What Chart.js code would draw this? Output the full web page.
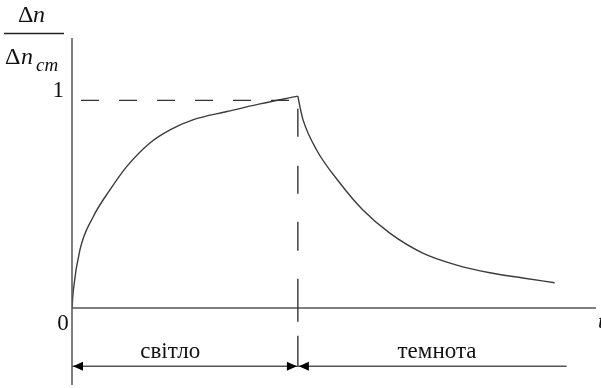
<!DOCTYPE html>
<html>
<head>
<meta charset="utf-8">
<script src="https://cdn.jsdelivr.net/npm/chart.js@4/dist/chart.umd.min.js"></script>
<style>
  html, body { margin: 0; padding: 0; background: #fff; }
  #wrap { width: 601px; height: 388px; }
</style>
</head>
<body>
<div id="wrap"><canvas id="relaxChart" width="601" height="388"></canvas></div>
<script>
// Relative excess carrier concentration: light on, then dark
const riseT   = [0, 0.006, 0.035, 0.094, 0.168, 0.242, 0.345, 0.434, 0.535, 0.686, 0.832, 1.0];
const riseVal = [0, 0.087, 0.28, 0.44, 0.569, 0.681, 0.795, 0.858, 0.906, 0.946, 0.983, 1.02];
const fallT   = [1.0, 1.009, 1.023, 1.083, 1.186, 1.288, 1.407, 1.553, 1.704, 1.85, 1.996, 2.137];
const fallVal = [1.02, 0.97, 0.906, 0.761, 0.602, 0.472, 0.361, 0.265, 0.207, 0.17, 0.145, 0.122];

const yTickLabels = ['0', '1'];
const phaseLabels = ['світло', 'темнота'];
const phaseEnd = 2.19;   // end of the "dark" interval on the time axis
const arrowRow = -0.28;  // level of the interval arrows below the axis

const ink = '#3c3c3c';
const serif = '"Liberation Serif", "DejaVu Serif", serif';

function toPoints(xs, ys) {
    return xs.map((x, i) => ({ x: x, y: ys[i] }));
}

function arrowHead(ctx, x, y, dir) {
    ctx.beginPath();
    ctx.moveTo(x, y);
    ctx.lineTo(x - dir * 10, y - 4.5);
    ctx.lineTo(x - dir * 10, y + 4.5);
    ctx.closePath();
    ctx.fill();
}

// Axes, guide lines, interval arrows and labels
const schemePlugin = {
    id: 'scheme',
    afterDatasetsDraw(chart) {
        const ctx = chart.ctx;
        const xs = chart.scales.x;
        const ys = chart.scales.y;
        const area = chart.chartArea;
        const x0 = xs.getPixelForValue(0);
        const x1 = xs.getPixelForValue(1);
        const y0 = ys.getPixelForValue(0);
        const y1 = ys.getPixelForValue(1);
        const yArr = ys.getPixelForValue(arrowRow);

        ctx.save();
        ctx.strokeStyle = '#555';
        ctx.fillStyle = '#000';
        ctx.lineWidth = 1.5;

        // axes
        ctx.beginPath();
        ctx.moveTo(x0, area.top);
        ctx.lineTo(x0, area.bottom);
        ctx.moveTo(x0, y0);
        ctx.lineTo(area.right, y0);
        ctx.stroke();

        // dashed level of 1
        ctx.strokeStyle = '#333';
        ctx.lineWidth = 1.4;
        ctx.setLineDash([18, 20]);
        ctx.beginPath();
        ctx.moveTo(xs.getPixelForValue(0.04), y1);
        ctx.lineTo(x1, y1);
        ctx.stroke();

        // dashed line at the moment the light is switched off
        ctx.setLineDash([28, 29, 28, 28, 29, 28, 43, 14, 40]);
        ctx.beginPath();
        ctx.moveTo(x1, ys.getPixelForValue(0.96));
        ctx.lineTo(x1, yArr);
        ctx.stroke();
        ctx.setLineDash([]);

        // interval arrows
        ctx.strokeStyle = '#555';
        ctx.beginPath();
        ctx.moveTo(x0, yArr);
        ctx.lineTo(xs.getPixelForValue(phaseEnd), yArr);
        ctx.stroke();
        arrowHead(ctx, x0 + 1, yArr, -1);
        arrowHead(ctx, x1 - 1, yArr, 1);
        arrowHead(ctx, x1 + 1, yArr, -1);

        // tick labels
        ctx.fillStyle = '#111';
        ctx.font = '23px ' + serif;
        ctx.textAlign = 'center';
        ctx.textBaseline = 'alphabetic';
        ctx.fillText(yTickLabels[0], x0 - 9, y0 + 22);
        ctx.textAlign = 'right';
        ctx.fillText(yTickLabels[1], x0 - 8, y1 - 3);

        // interval names
        ctx.textAlign = 'center';
        ctx.font = '23px ' + serif;
        ctx.fillText(phaseLabels[0], xs.getPixelForValue(0.435), yArr - 8);
        ctx.fillText(phaseLabels[1], xs.getPixelForValue(1.616), yArr - 8);

        // time axis letter, at the right edge
        ctx.textAlign = 'left';
        ctx.font = 'italic 22px ' + serif;
        ctx.fillText('t', area.right + 2, y0 + 20);

        // y axis title as a fraction Δn / Δn_cm
        ctx.textAlign = 'left';
        ctx.font = '24px ' + serif;
        ctx.fillText('Δ', 18, 22);
        ctx.font = 'italic 24px ' + serif;
        ctx.fillText('n', 33, 22);
        ctx.strokeStyle = '#222';
        ctx.lineWidth = 1.5;
        ctx.beginPath();
        ctx.moveTo(4, 33.5);
        ctx.lineTo(64, 33.5);
        ctx.stroke();
        ctx.font = '24px ' + serif;
        ctx.fillText('Δ', 5, 64);
        ctx.font = 'italic 24px ' + serif;
        ctx.fillText('n', 21, 64);
        ctx.font = 'italic 19px ' + serif;
        ctx.fillText('cm', 36, 71);

        ctx.restore();
    }
};

new Chart(document.getElementById('relaxChart'), {
    type: 'line',
    data: {
        datasets: [{
            label: 'light',
            data: toPoints(riseT, riseVal),
            borderColor: ink,
            borderWidth: 1.4,
            pointRadius: 0,
            cubicInterpolationMode: 'monotone',
            fill: false
        }, {
            label: 'dark',
            data: toPoints(fallT, fallVal),
            borderColor: ink,
            borderWidth: 1.4,
            pointRadius: 0,
            cubicInterpolationMode: 'monotone',
            fill: false
        }]
    },
    options: {
        responsive: false,
        animation: false,
        devicePixelRatio: 1,
        layout: { padding: { left: 72, right: 5, top: 38, bottom: 3 } },
        plugins: {
            legend: { display: false },
            tooltip: { enabled: false }
        },
        scales: {
            x: { type: 'linear', min: 0, max: 2.32, display: false },
            y: { type: 'linear', min: -0.37, max: 1.3, display: false }
        }
    },
    plugins: [schemePlugin]
});
</script>
</body>
</html>
